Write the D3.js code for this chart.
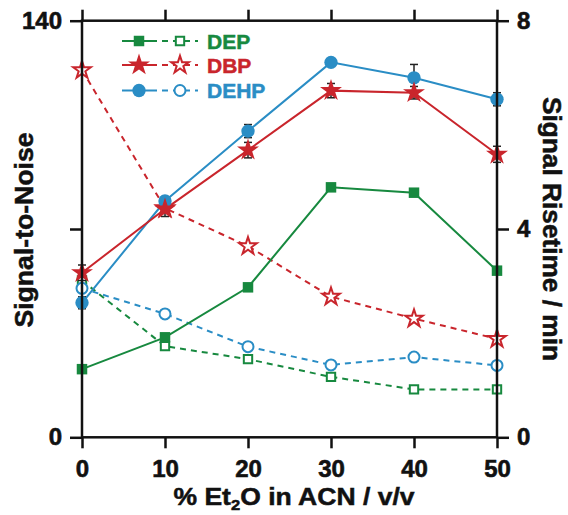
<!DOCTYPE html>
<html>
<head>
<meta charset="utf-8">
<script src="https://cdn.jsdelivr.net/npm/d3@7"></script>
<style>
  html, body { margin: 0; padding: 0; background: #fff; }
  svg { display: block; font-family: "Liberation Sans", Arial, Helvetica, sans-serif; font-weight: bold; }
</style>
</head>
<body>
<svg id="chart" width="568" height="515"></svg>
<script>
// % Et2O in ACN (v/v)
const etherPct = [0, 10, 20, 30, 40, 50];

// Signal-to-noise (left axis), filled markers, solid lines
const snDEP  = [22.9, 33.6, 50.4, 84.0, 82.2, 56.0];
const snDBP  = [55.3, 76.7, 96.5, 116.5, 115.8, 95.1];
const snDEHP = [45.2, 79.4, 102.9, 126.0, 120.8, 113.6];

// Standard deviation of the signal-to-noise values
const errDEP  = [1.2, 1.2, 1.2, 1.2, 1.2, 1.2];
const errDBP  = [2.6, 2.5, 2.6, 2.4, 2.1, 2.7];
const errDEHP = [2.0, 1.5, 2.2, 1.2, 4.5, 2.2];

// Signal risetime in minutes (right axis), open markers, dashed lines
const rtDEP  = [3.01, 1.75, 1.50, 1.16, 0.92, 0.92];
const rtDBP  = [7.05, 4.40, 3.67, 2.70, 2.28, 1.89];
const rtDEHP = [2.86, 2.37, 1.74, 1.39, 1.54, 1.38];

const seriesNames = ["DEP", "DBP", "DEHP"];

const xTicks = [0, 10, 20, 30, 40, 50];
const leftTicks = [0, 70, 140];
const leftTickLabels = ["0", "", "140"];
const rightTicks = [0, 4, 8];

const svg = d3.select("#chart");
const M = { left: 82, right: 497, top: 20.7, bottom: 437.3 };

const x = d3.scaleLinear().domain([0, 50]).range([M.left, M.right]);
const yL = d3.scaleLinear().domain([0, 140]).range([M.bottom, M.top]);
const yR = d3.scaleLinear().domain([0, 8]).range([M.bottom, M.top]);

const colors = { DEP: "#17893f", DBP: "#c9252c", DEHP: "#2a8dc5" };
const shapes = { DEP: d3.symbolSquare, DBP: d3.symbolStar, DEHP: d3.symbolCircle };
const filledSize = { DEP: 110, DBP: 150, DEHP: 140 };
const openSize = { DEP: 70, DBP: 95, DEHP: 95 };

const sn = { DEP: snDEP, DBP: snDBP, DEHP: snDEHP };
const err = { DEP: errDEP, DBP: errDBP, DEHP: errDEHP };
const rt = { DEP: rtDEP, DBP: rtDBP, DEHP: rtDEHP };

const lineW = 2;
const dash = "6,5";
const ink = "#111";

// ---- dashed risetime series (right axis) ----
const plot = svg.append("g");
seriesNames.forEach(name => {
  const pts = etherPct.map((p, i) => [x(p), yR(rt[name][i])]);
  plot.append("path")
    .attr("d", d3.line()(pts))
    .attr("fill", "none")
    .attr("stroke", colors[name])
    .attr("stroke-width", lineW)
    .attr("stroke-dasharray", dash);
});
seriesNames.forEach(name => {
  plot.selectAll(null).data(etherPct).enter().append("path")
    .attr("transform", (p, i) => `translate(${x(p)},${yR(rt[name][i])})`)
    .attr("d", d3.symbol().type(shapes[name]).size(openSize[name]))
    .attr("fill", "#fff")
    .attr("stroke", colors[name])
    .attr("stroke-width", 2);
});

// ---- solid signal-to-noise series (left axis) ----
const solidOrder = ["DEP", "DEHP", "DBP"];
solidOrder.forEach(name => {
  const pts = etherPct.map((p, i) => [x(p), yL(sn[name][i])]);
  plot.append("path")
    .attr("d", d3.line()(pts))
    .attr("fill", "none")
    .attr("stroke", colors[name])
    .attr("stroke-width", lineW);
});
// error bars
solidOrder.forEach(name => {
  const g = plot.append("g").attr("stroke", "#222").attr("stroke-width", 1.5);
  etherPct.forEach((p, i) => {
    const cx = x(p), hi = yL(sn[name][i] + err[name][i]), lo = yL(sn[name][i] - err[name][i]);
    g.append("line").attr("x1", cx).attr("x2", cx).attr("y1", hi).attr("y2", lo);
    g.append("line").attr("x1", cx - 4).attr("x2", cx + 4).attr("y1", hi).attr("y2", hi);
    g.append("line").attr("x1", cx - 4).attr("x2", cx + 4).attr("y1", lo).attr("y2", lo);
  });
});
solidOrder.forEach(name => {
  plot.selectAll(null).data(etherPct).enter().append("path")
    .attr("transform", (p, i) => `translate(${x(p)},${yL(sn[name][i])})`)
    .attr("d", d3.symbol().type(shapes[name]).size(filledSize[name]))
    .attr("fill", colors[name]);
});

// ---- frame and axes ----
const axisW = 2.5;
function styleAxis(g) {
  g.select(".domain").remove();
  g.selectAll(".tick line").attr("stroke", ink).attr("stroke-width", axisW);
  g.selectAll(".tick text").attr("fill", ink).attr("font-size", 24)
    .attr("stroke", ink).attr("stroke-width", 0.6)
    .attr("font-family", '"Liberation Sans", Arial, sans-serif').attr("font-weight", "bold");
}

svg.append("g").attr("transform", `translate(0,${M.bottom})`)
  .call(d3.axisBottom(x).tickValues(xTicks).tickSize(11).tickPadding(12).tickFormat(d3.format("d")))
  .call(styleAxis);
svg.append("g").attr("transform", `translate(0,${M.top})`)
  .call(d3.axisTop(x).tickValues(xTicks).tickSize(11).tickFormat(""))
  .call(styleAxis);
svg.append("g").attr("transform", `translate(${M.left},0)`)
  .call(d3.axisLeft(yL).tickValues(leftTicks).tickSize(12).tickPadding(8)
    .tickFormat((d, i) => leftTickLabels[i]))
  .call(styleAxis);
svg.append("g").attr("transform", `translate(${M.right},0)`)
  .call(d3.axisRight(yR).tickValues(rightTicks).tickSize(12).tickPadding(8).tickFormat(d3.format("d")))
  .call(styleAxis);

svg.append("rect")
  .attr("x", M.left).attr("y", M.top)
  .attr("width", M.right - M.left).attr("height", M.bottom - M.top)
  .attr("fill", "none").attr("stroke", ink).attr("stroke-width", axisW);

// ---- axis titles ----
const xTitle = svg.append("text")
  .attr("x", 294).attr("y", 505)
  .attr("text-anchor", "middle")
  .attr("font-size", 24).attr("fill", ink)
  .attr("stroke", ink).attr("stroke-width", 0.5)
  .attr("textLength", 241).attr("lengthAdjust", "spacingAndGlyphs");
xTitle.append("tspan").text("% Et");
xTitle.append("tspan").attr("font-size", 15).attr("dy", 5).text("2");
xTitle.append("tspan").attr("dy", -5).text("O in ACN / v/v");

svg.append("text")
  .attr("transform", "translate(33,230) rotate(-90)")
  .attr("text-anchor", "middle")
  .attr("font-size", 26).attr("fill", ink)
  .attr("stroke", ink).attr("stroke-width", 0.5)
  .attr("textLength", 195).attr("lengthAdjust", "spacingAndGlyphs")
  .text("Signal-to-Noise");

svg.append("text")
  .attr("transform", "translate(543,229) rotate(90)")
  .attr("text-anchor", "middle")
  .attr("font-size", 25).attr("fill", ink)
  .attr("stroke", ink).attr("stroke-width", 0.5)
  .attr("textLength", 264).attr("lengthAdjust", "spacingAndGlyphs")
  .text("Signal Risetime / min");

// ---- legend ----
const legendRows = [41, 65, 90.5];
const leg = svg.append("g");
seriesNames.forEach((name, i) => {
  const ly = legendRows[i];
  leg.append("line").attr("x1", 122).attr("x2", 157).attr("y1", ly).attr("y2", ly)
    .attr("stroke", colors[name]).attr("stroke-width", lineW);
  leg.append("line").attr("x1", 162).attr("x2", 198).attr("y1", ly).attr("y2", ly)
    .attr("stroke", colors[name]).attr("stroke-width", lineW).attr("stroke-dasharray", dash);
  leg.append("path").attr("transform", `translate(139,${ly})`)
    .attr("d", d3.symbol().type(shapes[name]).size(filledSize[name]))
    .attr("fill", colors[name]);
  leg.append("path").attr("transform", `translate(180,${ly})`)
    .attr("d", d3.symbol().type(shapes[name]).size(openSize[name]))
    .attr("fill", "#fff").attr("stroke", colors[name]).attr("stroke-width", 2);
  leg.append("text").attr("x", 207).attr("y", ly + 7.5)
    .attr("font-size", 21).attr("fill", colors[name])
    .attr("stroke", colors[name]).attr("stroke-width", 0.5)
    .text(name);
});
</script>
</body>
</html>
